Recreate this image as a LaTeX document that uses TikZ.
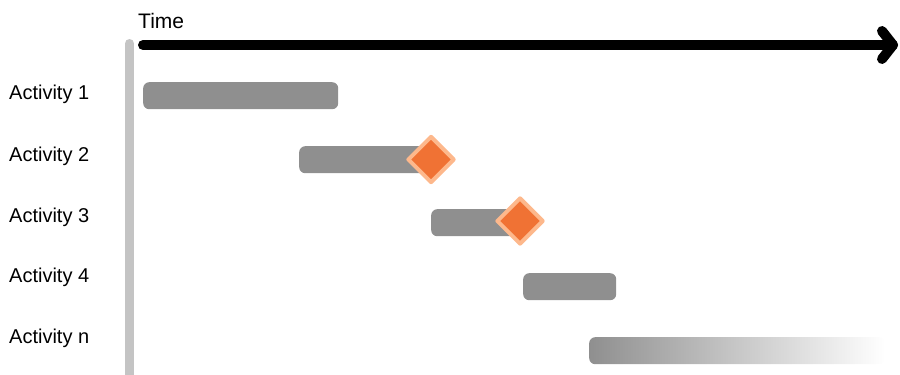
\documentclass[tikz,border=0pt]{standalone}
\usepackage{fontspec}
\setmainfont{Liberation Sans}
\usetikzlibrary{shapes.geometric}
\definecolor{bargray}{HTML}{8F8F8F}
\definecolor{axisgray}{HTML}{C4C4C4}
\definecolor{msfill}{HTML}{F07234}
\definecolor{msedge}{HTML}{FDB88C}
\tikzset{
  actlabel/.style={anchor=base west, inner sep=0pt, font=\fontsize{20}{24}\selectfont},
  barbox/.style={anchor=north west, rectangle, rounded corners=6pt, inner sep=0pt, minimum height=27pt, fill=bargray, draw=none},
  milestone/.style={diamond, inner sep=0pt, minimum width=47pt, minimum height=47pt, fill=msfill, draw=msedge, line width=4pt, line join=round},
  timeline/.style={line width=10pt, line cap=round, line join=round, black}
}
\begin{document}
\begin{tikzpicture}[x=1pt, y=-1pt]
\useasboundingbox (0,0) rectangle (900,375);
% vertical axis
\coordinate (vtop) at (129.5,43.5);
\coordinate (vbot) at (129.5,385);
\draw[axisgray, line width=9pt, line cap=round] (vtop) -- (vbot);
% time axis
\node[anchor=base west, inner sep=0pt, font=\fontsize{21}{25}\selectfont] (time) at (138,28) {Time};
\coordinate (tstart) at (143,45);
\coordinate (ttip) at (893,45);
\coordinate (hup) at (882,31);
\coordinate (hdown) at (882,59);
\draw[timeline] (tstart) -- (ttip);
\draw[timeline] (hup) -- (ttip) -- (hdown);
% labels
\node[actlabel] (l1) at (9,99) {Activity 1};
\node[actlabel] (l2) at (9,161) {Activity 2};
\node[actlabel] (l3) at (9,222) {Activity 3};
\node[actlabel] (l4) at (9,282) {Activity 4};
\node[actlabel] (ln) at (9,343) {Activity n};
% bars
\node[barbox, minimum width=195pt] (b1) at (143,82) {};
\node[barbox, minimum width=135pt] (b2) at (299,146) {};
\node[milestone] (m1) at (431,159.5) {};
\node[barbox, minimum width=92pt] (b3) at (431,209) {};
\node[milestone] (m2) at (520,221) {};
\node[barbox, minimum width=93pt] (b4) at (523,273) {};
\node[barbox, minimum width=296pt, fill=none, left color=bargray, right color=white] (bn) at (589,337) {};
\end{tikzpicture}
\end{document}
